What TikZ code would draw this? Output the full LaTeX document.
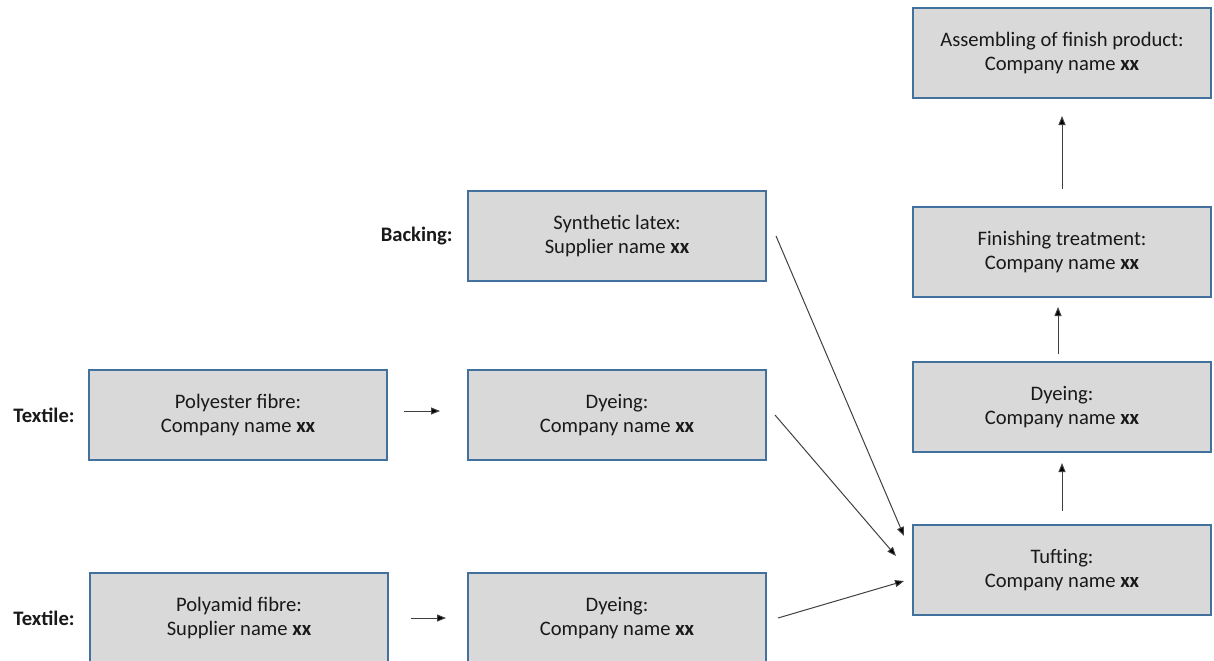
\documentclass[tikz,border=0pt]{standalone}
\usepackage{fontspec}
\setmainfont{Carlito}
\usetikzlibrary{arrows.meta, positioning}
\definecolor{boxblue}{RGB}{65,113,156}
\definecolor{boxgray}{RGB}{217,217,217}
\tikzset{
    base/.style={align=center, font=\fontsize{10.3}{12}\selectfont, text=black!90},
    stage/.style={base, rectangle, draw=boxblue, line width=1pt, fill=boxgray, minimum width=149pt, minimum height=45pt, inner sep=2pt},
    tag/.style={base, font=\fontsize{10.3}{12}\selectfont\bfseries, inner sep=0pt},
    arrow/.style={-{Triangle[length=4.5pt, width=3.5pt, fill=black]}, line width=0.5pt, draw=black!75}
}

\begin{document}
\begin{tikzpicture}[x=0.5pt, y=-0.5pt, node distance=39.5pt]
    \useasboundingbox (0,0) rectangle (1214,660);

    \node (poly) [stage] at (238,415) {Polyester fibre:\\ Company name \textbf{xx}};
    \node (dyeA) [stage, right=39.5pt of poly] {Dyeing:\\ Company name \textbf{xx}};
    \node (latex) [stage, above=43.5pt of dyeA] {Synthetic latex:\\ Supplier name \textbf{xx}};
    \node (dyeB) [stage, below=55.5pt of dyeA] {Dyeing:\\ Company name \textbf{xx}};
    \node (amid) [stage, left=39pt of dyeB] {Polyamid fibre:\\ Supplier name \textbf{xx}};

    \node (tuft) [stage] at (1062,570) {Tufting:\\ Company name \textbf{xx}};
    \node (dyeC) [stage, above=35.5pt of tuft] {Dyeing:\\ Company name \textbf{xx}};
    \node (finish) [stage, above=31.5pt of dyeC] {Finishing treatment:\\ Company name \textbf{xx}};
    \node (assemble) [stage, above=53.5pt of finish] {Assembling of finish product:\\ Company name \textbf{xx}};

    \node (tagPoly) [tag, left=6.5pt of poly] {Textile:};
    \node (tagLatex) [tag, left=7pt of latex] {Backing:};
    \node (tagAmid) [tag, left=7pt of amid] {Textile:};

    % free ends on the left side of the tufting box
    \coordinate (tinA) at ([xshift=-4pt, yshift=17pt]tuft.west);
    \coordinate (tinB) at ([xshift=-8pt, yshift=7pt]tuft.west);
    \coordinate (tinC) at ([xshift=-4pt, yshift=-5.5pt]tuft.west);

    \draw [arrow] ([xshift=8pt, yshift=2pt]poly.east) -- ([xshift=-13.5pt, yshift=2pt]dyeA.west);
    \draw [arrow] ([xshift=11pt]amid.east) -- ([xshift=-10.5pt]dyeB.west);
    \draw [arrow] ([xshift=4.5pt]latex.east) -- (tinA);
    \draw [arrow] ([xshift=4pt]dyeA.east) -- (tinB);
    \draw [arrow] ([xshift=5.5pt]dyeB.east) -- (tinC);
    \draw [arrow, shorten <=6.5pt, shorten >=5pt] (tuft) -- (dyeC);
    \draw [arrow] ([xshift=-2pt, yshift=3.5pt]dyeC.north) -- ([xshift=-2pt, yshift=-4.5pt]finish.south);
    \draw [arrow, shorten <=8.5pt, shorten >=8.5pt] (finish) -- (assemble);
\end{tikzpicture}
\end{document}
